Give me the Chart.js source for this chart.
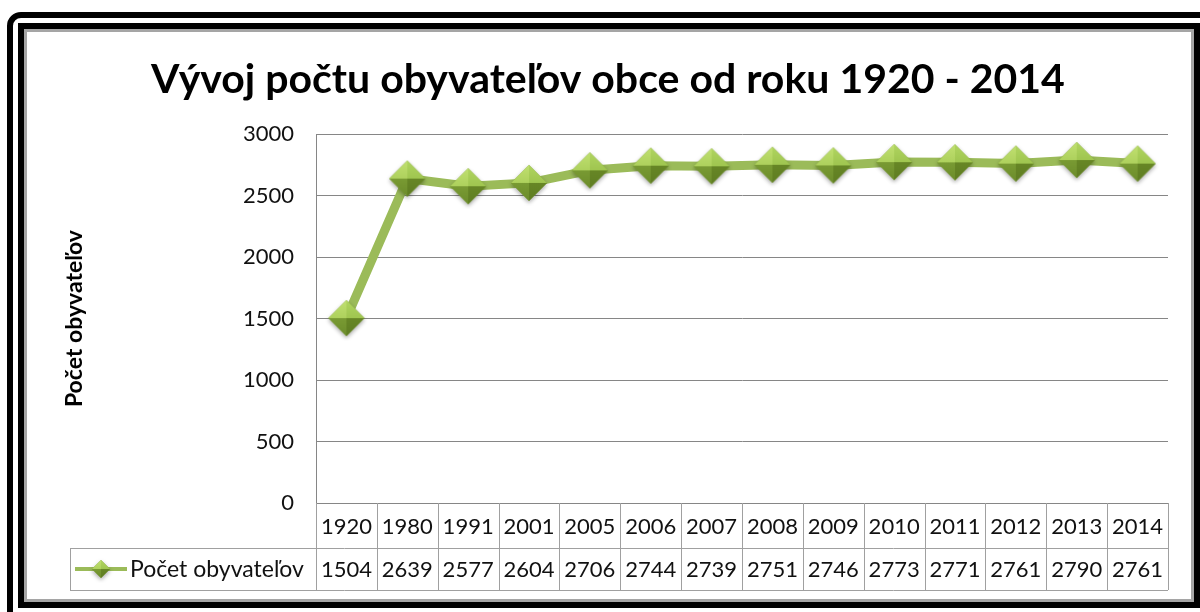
<!DOCTYPE html>
<html>
<head>
<meta charset="utf-8">
<script src="https://cdn.jsdelivr.net/npm/chart.js@4.4.1/dist/chart.umd.min.js"></script>
<style>
  html, body { margin: 0; padding: 0; width: 1200px; height: 612px; overflow: hidden; background: #fff; }
  .outer { position: absolute; left: 7px; top: 12px; width: 1400px; height: 800px; border: 6px solid #000; border-radius: 14px; }
  .inner { position: absolute; left: 18px; top: 23px; width: 1182px; height: 585px; box-sizing: border-box;
           border: 6px solid #000; background: #fff; box-shadow: inset 0 0 0 3px #a5a5a5; }
  #chart { position: absolute; left: 0; top: 0; }
</style>
</head>
<body>
<div class="outer"></div>
<div class="inner"></div>
<canvas id="chart" width="1200" height="612"></canvas>
<script>
const chartTitle = 'Vývoj počtu obyvateľov obce od roku 1920 - 2014';
const seriesName = 'Počet obyvateľov';
const years = ['1920', '1980', '1991', '2001', '2005', '2006', '2007', '2008', '2009', '2010', '2011', '2012', '2013', '2014'];
const population = [1504, 2639, 2577, 2604, 2706, 2744, 2739, 2751, 2746, 2773, 2771, 2761, 2790, 2761];
const yMin = 0;
const yMax = 3000;
const yStep = 500;

const FONT = 'Lato';

// shaded diamond marker like the Excel one
function makeDiamond(r) {
    const pad = 5;
    const c = document.createElement('canvas');
    c.width = c.height = 2 * r + pad * 2;
    const g = c.getContext('2d');
    const cx = r + pad, cy = r + pad;

    g.save();
    g.shadowColor = 'rgba(0,0,0,0.35)';
    g.shadowBlur = 4;
    g.shadowOffsetY = 2;
    g.beginPath();
    g.moveTo(cx, cy - r); g.lineTo(cx + r, cy); g.lineTo(cx, cy + r); g.lineTo(cx - r, cy);
    g.closePath();
    g.fillStyle = '#7d9e36';
    g.fill();
    g.restore();

    const facets = [
        [[cx - r, cy], [cx, cy - r], '#c0e070', '#9cc24a'],
        [[cx, cy - r], [cx + r, cy], '#b0d560', '#8fb640'],
        [[cx + r, cy], [cx, cy + r], '#6f8f2a', '#5f7d22'],
        [[cx, cy + r], [cx - r, cy], '#86a93b', '#6c8c2b']
    ];
    facets.forEach(([a, b, c1, c2]) => {
        const grad = g.createLinearGradient(cx, cy - r, cx, cy + r);
        grad.addColorStop(0, c1);
        grad.addColorStop(1, c2);
        g.beginPath();
        g.moveTo(cx, cy); g.lineTo(a[0], a[1]); g.lineTo(b[0], b[1]);
        g.closePath();
        g.fillStyle = grad;
        g.fill();
    });
    return c;
}

const bigDiamond = makeDiamond(18);
const smallDiamond = makeDiamond(9);

// data table under the plot, using the x scale's positions
const tablePlugin = {
    id: 'dataTable',
    afterDraw(chart) {
        const { ctx, chartArea, scales: { x } } = chart;
        const colW = x.getPixelForValue(1) - x.getPixelForValue(0);
        const top = chartArea.bottom;
        const mid = top + 45;
        const bot = mid + 42;
        const legendLeft = 70;

        ctx.save();
        ctx.strokeStyle = '#a0a0a0';
        ctx.lineWidth = 1;
        const line = (x1, y1, x2, y2) => {
            ctx.beginPath(); ctx.moveTo(x1, y1); ctx.lineTo(x2, y2); ctx.stroke();
        };
        line(legendLeft, Math.round(mid) + 0.5, chartArea.right, Math.round(mid) + 0.5);
        line(legendLeft, Math.round(bot) + 0.5, chartArea.right, Math.round(bot) + 0.5);
        line(legendLeft + 0.5, mid, legendLeft + 0.5, bot);
        for (let i = 0; i <= years.length; i++) {
            const xx = Math.round(x.getPixelForValue(i) - colW / 2) + 0.5;
            line(xx, top, xx, bot);
        }

        ctx.fillStyle = '#111';
        ctx.font = '22px ' + FONT;
        ctx.textAlign = 'center';
        ctx.textBaseline = 'middle';
        years.forEach((yr, i) => {
            const cx = x.getPixelForValue(i);
            ctx.fillText(yr, cx, (top + mid) / 2 + 1);
            ctx.fillText(String(population[i]), cx, (mid + bot) / 2 + 1);
        });

        // legend key
        const ly = (mid + bot) / 2;
        ctx.strokeStyle = '#9bbb59';
        ctx.lineWidth = 4;
        line(legendLeft + 5, ly, legendLeft + 57, ly);
        ctx.drawImage(smallDiamond, legendLeft + 31 - smallDiamond.width / 2, ly - smallDiamond.height / 2);
        ctx.textAlign = 'left';
        ctx.font = '23px ' + FONT;
        ctx.fillText(seriesName, legendLeft + 60, ly + 1);
        ctx.restore();
    }
};

const ctx = document.getElementById('chart').getContext('2d');
new Chart(ctx, {
    type: 'line',
    data: {
        labels: years,
        datasets: [{
            label: seriesName,
            data: population,
            borderColor: '#9bbb59',
            borderWidth: 9,
            borderJoinStyle: 'round',
            borderCapStyle: 'round',
            tension: 0,
            pointStyle: bigDiamond,
            pointRadius: 18,
            pointHoverRadius: 18
        }]
    },
    options: {
        responsive: false,
        animation: false,
        devicePixelRatio: 1,
        layout: { padding: { left: 48, right: 32, top: 0, bottom: 0 } },
        plugins: {
            legend: { display: false },
            tooltip: { enabled: false },
            title: {
                display: true,
                text: chartTitle,
                color: '#000',
                font: { family: FONT, size: 41, weight: 'bold' },
                padding: { top: 55, bottom: 30 }
            }
        },
        scales: {
            x: {
                offset: true,
                grid: { display: false },
                border: { display: false },
                ticks: { display: false },
                afterFit: s => { s.height = 109; }
            },
            y: {
                min: yMin,
                max: yMax,
                ticks: {
                    stepSize: yStep,
                    padding: 22,
                    color: '#111',
                    font: { family: FONT, size: 22 },
                    callback: v => String(v)
                },
                grid: { color: '#868686', drawTicks: false },
                border: { color: '#868686' },
                title: {
                    display: true,
                    text: seriesName,
                    color: '#000',
                    font: { family: FONT, size: 23, weight: 'bold' },
                    padding: { top: 13, bottom: 0 }
                },
                afterFit: s => { s.width = 268; }
            }
        }
    },
    plugins: [tablePlugin]
});
</script>
</body>
</html>
